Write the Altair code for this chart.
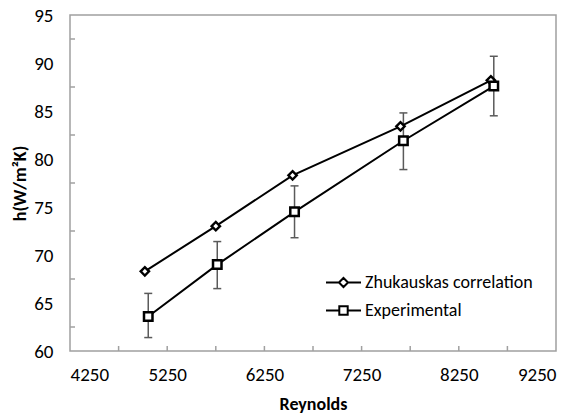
import altair as alt
import pandas as pd

# ---- data ----
series_names = ["Zhukauskas correlation", "Experimental"]
re_zh = [5020, 5750, 6540, 7650, 8580]
h_zh = [68.3, 73.0, 78.3, 83.4, 88.2]
re_ex = [5055, 5765, 6560, 7680, 8610]
h_ex = [63.6, 69.0, 74.5, 81.9, 87.6]
ex_low = [61.4, 66.5, 71.8, 78.9, 84.5]
ex_high = [66.0, 71.4, 77.2, 84.8, 90.7]

x_labels = [4250, 5250, 6250, 7250, 8250, 9250]
x_minor = [4750, 5250, 5750, 6250, 6750, 7250, 7750, 8250, 8750]
y_labels = [60, 65, 70, 75, 80, 85, 90, 95]
y_minor = [62.5, 67.5, 72.5, 77.5, 82.5, 87.5, 92.5]

FONT = "Carlito, DejaVu Sans Condensed, sans-serif"
GRAY = "#a0a0a0"
W, H = 486, 336

df_zh = pd.DataFrame({"series": series_names[0], "re": re_zh, "h": h_zh})
df_ex = pd.DataFrame({"series": series_names[1], "re": re_ex, "h": h_ex,
                      "low": ex_low, "high": ex_high})
df = pd.concat([df_zh, df_ex], ignore_index=True)

XT = "Reynolds"
YT = "h(W/m²K)"
x_scale = alt.Scale(domain=[4250, 9250], nice=False, zero=False)
y_scale = alt.Scale(domain=[60, 95], nice=False, zero=False)

x_enc = alt.X("re:Q", scale=x_scale, title=XT,
              axis=alt.Axis(values=x_labels, format="d", labelPadding=14,
                            titlePadding=11))
y_enc = alt.Y("h:Q", scale=y_scale, title=YT,
              axis=alt.Axis(values=y_labels, format="d", labelPadding=17,
                            titlePadding=4))

lines = alt.Chart(df).mark_line(color="black", strokeWidth=2).encode(
    x=x_enc, y=y_enc, detail="series:N")

err = alt.Chart(df_ex).mark_rule(color="#5a5a5a", strokeWidth=1.5).encode(
    x=alt.X("re:Q", title=XT), y=alt.Y("low:Q", title=YT), y2="high:Q")
cap_lo = alt.Chart(df_ex).mark_tick(orient="horizontal", color="#5a5a5a",
                                    thickness=1.5, size=8, opacity=1).encode(
    x=alt.X("re:Q", title=XT), y=alt.Y("low:Q", title=YT))
cap_hi = alt.Chart(df_ex).mark_tick(orient="horizontal", color="#5a5a5a",
                                    thickness=1.5, size=8, opacity=1).encode(
    x=alt.X("re:Q", title=XT), y=alt.Y("high:Q", title=YT))

diamonds = alt.Chart(df_zh).mark_point(shape="diamond", filled=True, fill="white",
                                       stroke="black", strokeWidth=2.4, size=70,
                                       opacity=1).encode(
    x=alt.X("re:Q", title=XT), y=alt.Y("h:Q", title=YT))
squares = alt.Chart(df_ex).mark_point(shape="square", filled=True, fill="white",
                                      stroke="black", strokeWidth=2.5, size=72,
                                      opacity=1).encode(
    x=alt.X("re:Q", title=XT), y=alt.Y("h:Q", title=YT))

path_diamond = "M-1,0H-0.26M0.26,0H1M-0.26,0L0,-0.26L0.26,0L0,0.26Z"
path_square = "M-1,0H-0.24M0.24,0H1M-0.24,-0.24H0.24V0.24H-0.24Z"

legend_layer = alt.Chart(df).mark_point(opacity=0, color="black", filled=False).encode(
    x=alt.X("re:Q", title=XT), y=alt.Y("h:Q", title=YT),
    shape=alt.Shape("series:N",
                    scale=alt.Scale(domain=series_names, range=[path_diamond, path_square]),
                    legend=alt.Legend(title=None, orient="none", legendX=255, legendY=249,
                                      symbolSize=1225, symbolStrokeWidth=2,
                                      symbolStrokeColor="black", symbolFillColor="white",
                                      symbolOpacity=1, labelFont=FONT, labelFontSize=18,
                                      labelColor="black", labelOffset=3, rowPadding=0,
                                      padding=0, labelLimit=400)))

xt = alt.Chart(pd.DataFrame({"t": x_minor})).mark_rule(color=GRAY, strokeWidth=1.5).encode(
    x=alt.X("t:Q", title=XT), y=alt.value(H), y2=alt.value(H - 5))
yt = alt.Chart(pd.DataFrame({"t": y_minor})).mark_rule(color=GRAY, strokeWidth=1.5).encode(
    y=alt.Y("t:Q", title=YT), x=alt.value(0), x2=alt.value(5))

chart = alt.layer(xt, yt, err, cap_lo, cap_hi, lines, diamonds, squares, legend_layer).properties(
    width=W, height=H,
    padding={"left": 70, "top": 15, "right": 25, "bottom": 65},
    autosize="none",
    background="white",
).configure_view(stroke=GRAY, strokeWidth=1.5).configure_axis(
    grid=False, domain=False, ticks=False,
    labelFont=FONT, labelFontSize=19, labelColor="black",
    titleFont=FONT, titleFontSize=18, titleFontWeight="bold", titleColor="black",
)

chart.save("out.html", embed_options={"renderer": "svg", "actions": False})
